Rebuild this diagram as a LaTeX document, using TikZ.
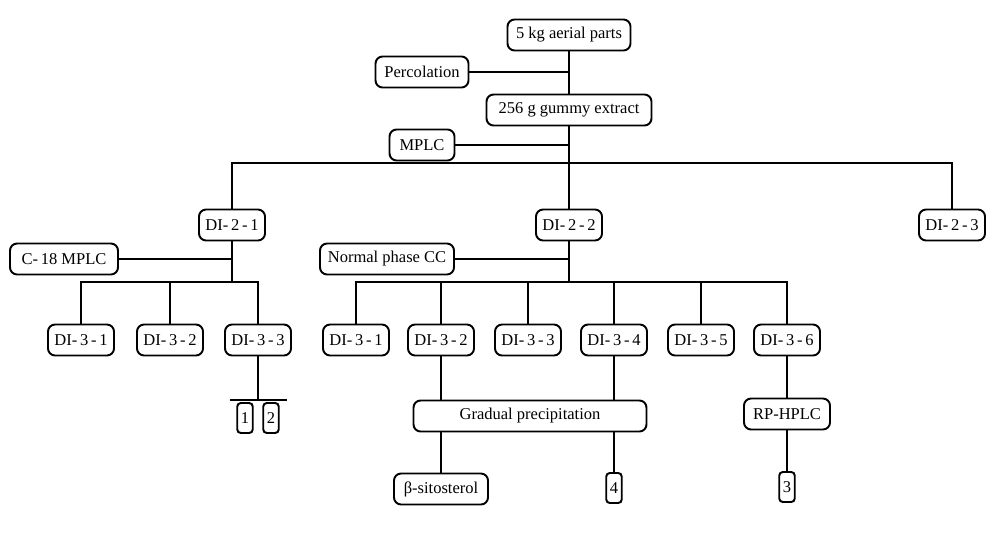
\documentclass[tikz,border=0pt]{standalone}
\usepackage{fontspec}
\setmainfont{Liberation Serif}
\usepackage{tikz}
\usetikzlibrary{positioning,calc}

\newcommand{\di}[3]{#1-\,#2\,-\,#3}

\begin{document}
\begin{tikzpicture}[x=0.02cm, y=-0.02cm,
  box/.style={draw, line width=1.1pt, rounded corners=4pt, fill=white,
    minimum height=0.62cm, inner sep=1pt, font=\fontsize{9.4}{11}\selectfont},
  numbox/.style={box, rounded corners=2pt, minimum width=0.31cm, minimum height=0.6cm},
  link/.style={line width=1.1pt}]

\useasboundingbox (0,0) rectangle (1000,534);

% extraction
\node[box, minimum width=2.46cm] (top) at (569,35) {5 kg aerial parts};
\node[box, minimum width=1.86cm] (perc) at (422,72) {Percolation};
\node[box, minimum width=3.3cm] (extract) at (569,110) {256 g gummy extract};
\node[box, minimum width=1.3cm] (mplc) at (422,145) {MPLC};

% first fractions
\node[box, minimum width=1.32cm] (di21) at (232,225) {\di{DI}{2}{1}};
\node[box, minimum width=1.32cm] (di22) at (569,225) {\di{DI}{2}{2}};
\node[box, minimum width=1.32cm] (di23) at (952,225) {\di{DI}{2}{3}};

\node[box, minimum width=2.16cm] (c18) at (64,259) {C-\,18 MPLC};
\node[box, minimum width=2.68cm] (ncc) at (387,259) {Normal phase CC};

% fractions of DI-2-1
\node[box, minimum width=1.32cm] (l31) at (81,340) {\di{DI}{3}{1}};
\node[box, minimum width=1.32cm] (l32) at (170,340) {\di{DI}{3}{2}};
\node[box, minimum width=1.32cm] (l33) at (258,340) {\di{DI}{3}{3}};
\node[numbox] (n1) at (245,418) {1};
\node[numbox] (n2) at (271,418) {2};

% fractions of DI-2-2
\node[box, minimum width=1.32cm] (m31) at (356,340) {\di{DI}{3}{1}};
\node[box, minimum width=1.32cm] (m32) at (441,340) {\di{DI}{3}{2}};
\node[box, minimum width=1.32cm] (m33) at (528,340) {\di{DI}{3}{3}};
\node[box, minimum width=1.32cm] (m34) at (614,340) {\di{DI}{3}{4}};
\node[box, minimum width=1.32cm] (m35) at (701,340) {\di{DI}{3}{5}};
\node[box, minimum width=1.32cm] (m36) at (787,340) {\di{DI}{3}{6}};

\node[box, minimum width=4.66cm] (grad) at (530,416) {Gradual precipitation};
\node[box, minimum width=1.72cm] (rp) at (787,414) {RP-HPLC};
\node[box, minimum width=1.88cm] (beta) at (441,489) {β-sitosterol};
\node[numbox] (n4) at (614,488) {4};
\node[numbox] (n3) at (787,487) {3};

% junctions
\coordinate (jp) at (569,72);
\coordinate (jm) at (569,145);
\coordinate (h1) at (569,163);
\coordinate (jc) at (232,259);
\coordinate (h2) at (232,282);
\coordinate (jn) at (569,259);
\coordinate (h4) at (569,282);
\coordinate (h3) at (258,400);
\coordinate (h3a) at (230,400);
\coordinate (h3b) at (287,400);

\draw[link] (top) -- (extract);
\draw[link] (perc) -- (jp);
\draw[link] (mplc) -- (jm);
\draw[link] (extract) -- (di22);
\draw[link] (di21.north) |- (h1) -| (di23.north);

\draw[link] (c18) -- (jc);
\draw[link] (di21) -- (h2);
\draw[link] (l31.north) |- (h2) -| (l33.north);
\draw[link] (l32 |- h2) -- (l32);
\draw[link] (l33) -- (h3);
\draw[link] (h3a) -- (h3b);

\draw[link] (ncc) -- (jn);
\draw[link] (di22) -- (h4);
\draw[link] (m31.north) |- (h4) -| (m36.north);
\draw[link] (m32 |- h4) -- (m32);
\draw[link] (m33 |- h4) -- (m33);
\draw[link] (m34 |- h4) -- (m34);
\draw[link] (m35 |- h4) -- (m35);

\draw[link] (m32) -- (m32 |- grad.north);
\draw[link] (m34) -- (m34 |- grad.north);
\draw[link] (grad.south -| beta) -- (beta);
\draw[link] (grad.south -| n4) -- (n4);
\draw[link] (m36) -- (rp);
\draw[link] (rp) -- (n3);

\end{tikzpicture}
\end{document}
